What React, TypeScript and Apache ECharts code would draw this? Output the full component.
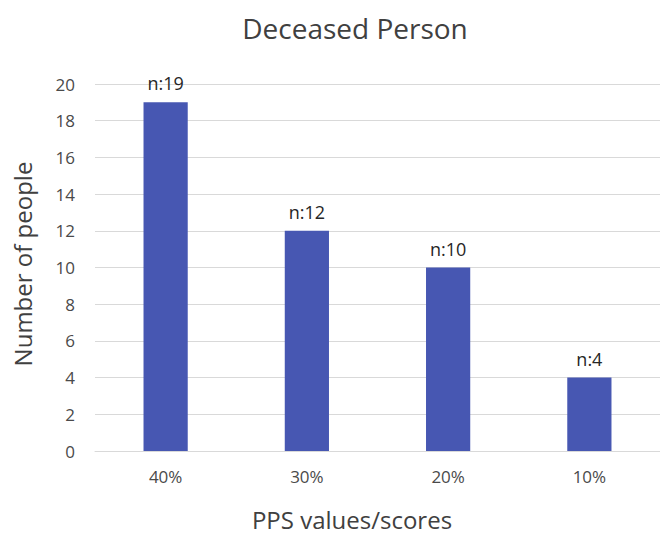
import React, { useEffect, useRef } from "react";
import * as echarts from "echarts";

const categories = ["40%", "30%", "20%", "10%"];
const values = [19, 12, 10, 4];
const labels = ["n:19", "n:12", "n:10", "n:4"];
const yTicks = { min: 0, max: 20, interval: 2 };

export default function App() {
  const ref = useRef<HTMLDivElement>(null);
  useEffect(() => {
    document.body.style.margin = "0";
    const chart = echarts.init(ref.current!, null, { renderer: "svg" });
    const font = "'Open Sans', 'Noto Sans', sans-serif";
    chart.setOption({
      animation: false,
      backgroundColor: "#ffffff",
      title: {
        text: "Deceased Person",
        left: 350,
        top: 9,
        textAlign: "center",
        textStyle: { fontFamily: font, fontSize: 28, fontWeight: "normal", color: "#404040" },
      },
      grid: { left: 95, right: -4, top: 84, bottom: 83.5, containLabel: false },
      xAxis: {
        type: "category",
        data: categories,
        name: "PPS values/scores",
        nameLocation: "middle",
        nameGap: 56,
        nameTextStyle: { fontFamily: font, fontSize: 24, color: "#404040", padding: [0, 51, 0, 0] },
        axisLine: { show: true, lineStyle: { color: "#d9d9d9", width: 1 } },
        axisTick: { show: false },
        axisLabel: { fontFamily: font, fontSize: 17, color: "#4a4a4a", margin: 17 },
      },
      yAxis: {
        type: "value",
        min: yTicks.min,
        max: yTicks.max,
        interval: yTicks.interval,
        name: "Number of people",
        nameLocation: "middle",
        nameGap: 61,
        nameTextStyle: { fontFamily: font, fontSize: 24, color: "#404040", padding: [0, 0, 0, 7] },
        axisLine: { show: false },
        axisTick: { show: false },
        axisLabel: { fontFamily: font, fontSize: 17, color: "#4a4a4a", margin: 20 },
        splitLine: { lineStyle: { color: "#d9d9d9", width: 1 } },
      },
      series: [
        {
          type: "bar",
          data: values,
          barWidth: "31.3%",
          itemStyle: { color: "#4757B2" },
          label: {
            show: true,
            position: "top",
            distance: 10,
            fontFamily: font,
            fontSize: 18,
            color: "#262626",
            formatter: (p: any) => labels[p.dataIndex],
          },
        },
      ],
    });
    return () => chart.dispose();
  }, []);
  return <div ref={ref} style={{ width: 660, height: 536 }} />;
}
